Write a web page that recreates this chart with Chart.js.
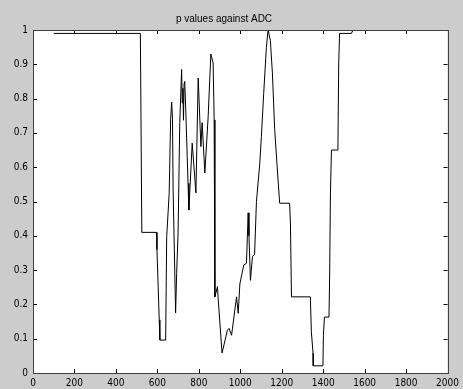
<!DOCTYPE html>
<html>
<head>
<meta charset="utf-8">
<script src="https://cdn.jsdelivr.net/npm/chart.js@4"></script>
<style>
  html, body { margin: 0; padding: 0; background: #cccccc; overflow: hidden; }
  #wrap { width: 463px; height: 389px; position: relative; }
</style>
</head>
<body>
<div id="wrap"><canvas id="pchart"></canvas></div>
<script>
// p values against ADC
const adcValues = [
  100, 518, 525, 596, 598, 604, 609, 612, 640,
  645, 657, 664, 669, 673, 676, 688, 693, 700, 708, 717, 720, 723, 726, 729, 732, 737,
  748, 752, 768, 786, 797, 810, 816, 829, 845, 858, 869, 874, 877, 878, 890, 893,
  912, 938, 946, 958, 982, 990, 998, 1017, 1030, 1038, 1042, 1049, 1059, 1069, 1078,
  1094, 1102, 1113, 1126, 1134, 1145, 1155, 1166, 1177, 1190, 1238, 1242, 1247,
  1338, 1343, 1351, 1352, 1399, 1401, 1406, 1428, 1431, 1435, 1440, 1471, 1475, 1479,
  1536, 1544
];
const pValues = [
  0.99, 0.99, 0.41, 0.41, 0.36, 0.25, 0.155, 0.096, 0.096,
  0.397, 0.524, 0.74, 0.79, 0.742, 0.534, 0.175, 0.29, 0.41, 0.73, 0.885, 0.787, 0.83, 0.737, 0.845, 0.85, 0.767,
  0.553, 0.475, 0.67, 0.525, 0.86, 0.66, 0.73, 0.583, 0.747, 0.93, 0.904, 0.738, 0.388, 0.222, 0.252, 0.22,
  0.058, 0.125, 0.13, 0.11, 0.222, 0.174, 0.26, 0.315, 0.32, 0.467, 0.4, 0.27, 0.34, 0.345, 0.5,
  0.61, 0.69, 0.815, 0.95, 1.0, 0.97, 0.875, 0.71, 0.61, 0.495, 0.495, 0.437, 0.222,
  0.222, 0.12, 0.058, 0.021, 0.021, 0.11, 0.163, 0.163, 0.28, 0.525, 0.65, 0.65, 0.904, 0.99,
  0.99, 1.0
];
const xTickLabels = ['0', '200', '400', '600', '800', '1000', '1200', '1400', '1600', '1800', '2000'];
const yTickLabels = ['0', '0.1', '0.2', '0.3', '0.4', '0.5', '0.6', '0.7', '0.8', '0.9', '1'];

const tickFont = { family: "'Liberation Sans Narrow', 'DejaVu Sans Condensed', sans-serif", size: 10 };

// white axes box, frame and inward ticks on all four sides (matlab style)
const boxPlugin = {
  id: 'matlabBox',
  beforeDraw(chart) {
    const a = chart.chartArea;
    const ctx = chart.ctx;
    ctx.save();
    ctx.fillStyle = '#ffffff';
    ctx.fillRect(a.left, a.top, a.right - a.left, a.bottom - a.top);
    ctx.restore();
  },
  afterDraw(chart) {
    const a = chart.chartArea;
    const ctx = chart.ctx;
    const len = 4;
    ctx.save();
    ctx.strokeStyle = '#000000';
    ctx.lineWidth = 1;
    ctx.beginPath();
    chart.scales.x.ticks.forEach(t => {
      const px = Math.round(chart.scales.x.getPixelForValue(t.value)) + 0.5;
      ctx.moveTo(px, a.bottom); ctx.lineTo(px, a.bottom - len);
      ctx.moveTo(px, a.top); ctx.lineTo(px, a.top + len);
    });
    chart.scales.y.ticks.forEach(t => {
      const py = Math.round(chart.scales.y.getPixelForValue(t.value)) + 0.5;
      ctx.moveTo(a.left, py); ctx.lineTo(a.left + len, py);
      ctx.moveTo(a.right, py); ctx.lineTo(a.right - len, py);
    });
    ctx.stroke();
    ctx.strokeStyle = '#404040';
    ctx.strokeRect(Math.round(a.left) + 0.5, Math.round(a.top) + 0.5,
      Math.round(a.right - a.left), Math.round(a.bottom - a.top));
    ctx.restore();
  }
};

new Chart(document.getElementById('pchart'), {
  type: 'scatter',
  data: {
    datasets: [{
      label: 'p',
      data: adcValues.map((x, i) => ({ x: x, y: pValues[i] })),
      showLine: true,
      borderColor: '#000000',
      borderWidth: 1,
      pointRadius: 0,
      tension: 0
    }]
  },
  options: {
    responsive: true,
    maintainAspectRatio: false,
    animation: false,
    layout: { padding: { left: 0, right: 15, top: 0, bottom: 0 } },
    plugins: {
      legend: { display: false },
      tooltip: { enabled: false },
      title: {
        display: true,
        text: 'p values against ADC',
        color: '#000000',
        font: { family: "'Liberation Sans', Arial, sans-serif", size: 10, weight: 'normal' },
        padding: { top: 13, bottom: 5 }
      }
    },
    scales: {
      x: {
        type: 'linear',
        min: 0,
        max: 2000,
        grid: { display: false, drawTicks: false },
        border: { display: false },
        afterFit(s) { s.height = 16; },
        ticks: {
          stepSize: 200,
          maxRotation: 0,
          autoSkip: false,
          padding: 4,
          color: '#000000',
          font: tickFont,
          callback: (v, i) => xTickLabels[i]
        }
      },
      y: {
        min: 0,
        max: 1,
        grid: { display: false, drawTicks: false },
        border: { display: false },
        afterFit(s) { s.width = 33; },
        ticks: {
          stepSize: 0.1,
          autoSkip: false,
          padding: 5,
          color: '#000000',
          font: tickFont,
          callback: (v, i) => yTickLabels[i]
        }
      }
    }
  },
  plugins: [boxPlugin]
});
</script>
</body>
</html>
